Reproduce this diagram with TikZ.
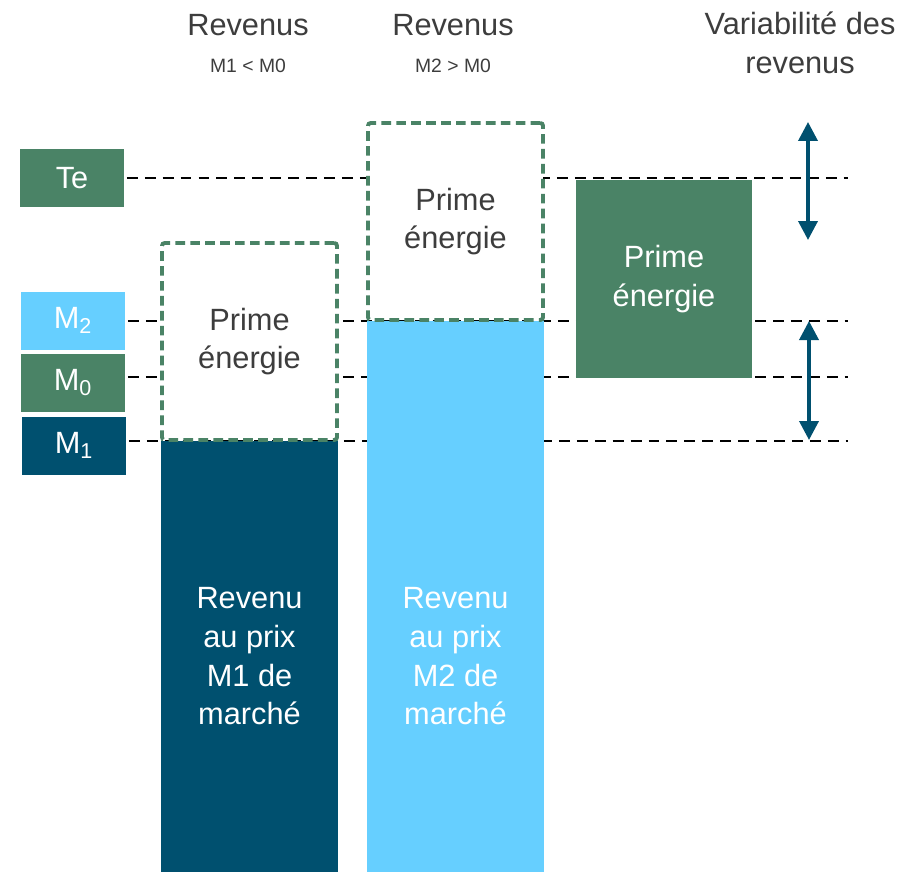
\documentclass[tikz,border=0pt]{standalone}
\usepackage{fontspec}
\setmainfont{Liberation Sans}
\usetikzlibrary{positioning,arrows.meta}
\definecolor{vert}{HTML}{4A8366}
\definecolor{bleuclair}{HTML}{66CFFF}
\definecolor{bleufonce}{HTML}{00506F}
\definecolor{gris}{HTML}{3D3D3D}

\begin{document}
\begin{tikzpicture}[x=0.02cm,y=-0.02cm, font=\fontsize{17.5}{22}\selectfont,
    lab/.style={fill=#1, text=white, minimum width=2.08cm, minimum height=1.16cm, inner sep=0pt},
    barre/.style={fill=#1, text=white, minimum width=3.54cm, inner sep=0pt, align=center},
    prime/.style={draw=vert, line width=2.2pt, dash pattern=on 5.5pt off 3pt, rounded corners=1.5pt, fill=white, text=gris, minimum width=3.5cm, minimum height=3.94cm, align=center},
    niveau/.style={dash pattern=on 6.2pt off 4pt, line width=1.6pt, black, shorten <=0.05cm},
    var/.style={{Triangle[length=0.38cm,width=0.38cm]}-{Triangle[length=0.38cm,width=0.38cm]}, line width=2.1pt, bleufonce},
    titre/.style={text=gris, align=center},
    sous/.style={text=gris, font=\fontsize{11}{13}\selectfont}]
  \useasboundingbox (0,0) rectangle (922,872);
  \node[titre] (tR1) at (248,25) {Revenus};
  \node[sous] (sR1) at (248,66) {M1 < M0};
  \node[titre] (tR2) at (453,25) {Revenus};
  \node[sous] (sR2) at (453,66) {M2 > M0};
  \node[titre] (tVar) at (800,43) {Variabilité des\\revenus};
  \node[lab=vert] (Te) at (72,178) {Te};
  \node[lab=bleuclair] (M2) at (73,320.5) {M\textsubscript{2}};
  \node[lab=vert] (M0) at (73,382.5) {M\textsubscript{0}};
  \node[lab=bleufonce] (M1) at (74,445.5) {M\textsubscript{1}};
  \foreach \n/\y in {Te/178, M2/321, M0/377, M1/441}{
    \coordinate (f\n) at (848,\y);
    \draw[niveau] (\n.east |- f\n) -- (f\n);
  }
  \node[barre=bleufonce, minimum height=8.62cm] (b1) at (249.5,656.5) {Revenu\\au prix\\M1 de\\marché};
  \node[prime] (p1) at (249.5,341.5) {Prime\\énergie};
  \node[barre=bleuclair, minimum height=11.02cm] (b2) at (455.5,596.5) {};
  \node[text=white, align=center] (t2) at (b2 |- b1) {Revenu\\au prix\\M2 de\\marché};
  \node[prime] (p2) at (455.5,221.5) {Prime\\énergie};
  \node[barre=vert, minimum height=3.96cm, minimum width=3.52cm] (p3) at (664,279) {Prime\\énergie};
  \coordinate (vh1) at (808,122);
  \coordinate (vb1) at (808,240);
  \coordinate (vh2) at (809,321);
  \coordinate (vb2) at (809,440);
  \draw[var] (vh1) -- (vb1);
  \draw[var] (vh2) -- (vb2);
\end{tikzpicture}
\end{document}
